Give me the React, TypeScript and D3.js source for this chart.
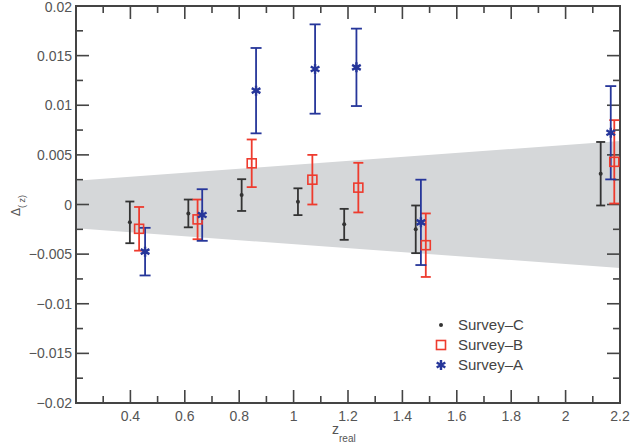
import React from 'react';
import * as d3 from 'd3';

const W = 633;
const H = 446;
const M = { left: 76, right: 13, top: 6, bottom: 43 };

// band half-width at the two ends of the x range
const bandX = [0.2, 2.2];
const bandHalf = [0.0024, 0.0064];

const surveyC_x = [0.398, 0.613, 0.809, 1.016, 1.186, 1.449, 2.129];
const surveyC_y = [-0.0018, -0.0009, 0.00095, 0.00028, -0.002, -0.0025, 0.0031];
const surveyC_err = [0.0021, 0.0014, 0.0016, 0.00135, 0.00156, 0.0024, 0.0032];

const surveyB_x = [0.432, 0.647, 0.846, 1.069, 1.238, 1.486, 2.179];
const surveyB_y = [-0.00245, -0.0015, 0.00415, 0.0025, 0.0017, -0.0041, 0.0043];
const surveyB_err = [0.0022, 0.002, 0.0024, 0.0025, 0.0025, 0.0032, 0.0042];

const surveyA_x = [0.454, 0.664, 0.862, 1.079, 1.231, 1.468, 2.166];
const surveyA_y = [-0.00475, -0.00106, 0.01147, 0.01365, 0.01382, -0.0018, 0.00723];
const surveyA_err = [0.0024, 0.0026, 0.0043, 0.0045, 0.0039, 0.0043, 0.0047];

const xMajor = [0.4, 0.6, 0.8, 1, 1.2, 1.4, 1.6, 1.8, 2, 2.2];
const xMinor = [0.3, 0.5, 0.7, 0.9, 1.1, 1.3, 1.5, 1.7, 1.9, 2.1];
const yMajor = [-0.02, -0.015, -0.01, -0.005, 0, 0.005, 0.01, 0.015, 0.02];
const yMinor = [-0.0175, -0.0125, -0.0075, -0.0025, 0.0025, 0.0075, 0.0125, 0.0175];
const yLabels = ['\u22120.02', '\u22120.015', '\u22120.01', '\u22120.005', '0', '0.005', '0.01', '0.015', '0.02'];

const legendNames = ['Survey\u2013C', 'Survey\u2013B', 'Survey\u2013A'];

const BLACK = '#333333';
const RED = '#ee3b2e';
const BLUE = '#26369a';
const AXIS = '#444444';
const FONT = '"Liberation Sans", Arial, sans-serif';

const x = d3.scaleLinear().domain([0.2, 2.2]).range([M.left, W - M.right]);
const y = d3.scaleLinear().domain([-0.02, 0.02]).range([H - M.bottom, M.top]);

const asterisk = d3.symbol().type(d3.symbolAsterisk).size(70)();

type Pt = { x: number; y: number; e: number };
const zip = (xs: number[], ys: number[], es: number[]): Pt[] =>
  xs.map((v, i) => ({ x: v, y: ys[i], e: es[i] }));

const ErrorBars = ({ pts, color, cap }: { pts: Pt[]; color: string; cap: number }) => (
  <g stroke={color} strokeWidth={1.8} fill="none">
    {pts.map((p, i) => {
      const cx = x(p.x);
      const y0 = y(p.y + p.e);
      const y1 = y(p.y - p.e);
      return (
        <g key={i}>
          <line x1={cx} x2={cx} y1={y0} y2={y1} />
          <line x1={cx - cap / 2} x2={cx + cap / 2} y1={y0} y2={y0} />
          <line x1={cx - cap / 2} x2={cx + cap / 2} y1={y1} y2={y1} />
        </g>
      );
    })}
  </g>
);

export default function App() {
  const C = zip(surveyC_x, surveyC_y, surveyC_err);
  const B = zip(surveyB_x, surveyB_y, surveyB_err);
  const A = zip(surveyA_x, surveyA_y, surveyA_err);

  const band = d3
    .area<number>()
    .x((d) => x(bandX[d]))
    .y0((d) => y(-bandHalf[d]))
    .y1((d) => y(bandHalf[d]));

  const [x0, x1] = x.range();
  const [yb, yt] = y.range();
  const MAJ = 13;
  const MIN = 7;

  const legY = [325, 345, 365];
  const legX = 441;

  return (
    <svg width={W} height={H} style={{ position: 'absolute', left: 0, top: 0, background: '#fff' }} fontFamily={FONT}>
      <path d={band([0, 1]) || ''} fill="#d5d7d9" />

      {/* ticks */}
      <g stroke={AXIS} strokeWidth={1.6}>
        {xMajor.map((t) => (
          <g key={'xM' + t}>
            <line x1={x(t)} x2={x(t)} y1={yb} y2={yb - MAJ} />
            <line x1={x(t)} x2={x(t)} y1={yt} y2={yt + MAJ} />
          </g>
        ))}
        {xMinor.map((t) => (
          <g key={'xm' + t}>
            <line x1={x(t)} x2={x(t)} y1={yb} y2={yb - MIN} />
            <line x1={x(t)} x2={x(t)} y1={yt} y2={yt + MIN} />
          </g>
        ))}
        {yMajor.map((t) => (
          <g key={'yM' + t}>
            <line x1={x0} x2={x0 + MAJ} y1={y(t)} y2={y(t)} />
            <line x1={x1} x2={x1 - MAJ} y1={y(t)} y2={y(t)} />
          </g>
        ))}
        {yMinor.map((t) => (
          <g key={'ym' + t}>
            <line x1={x0} x2={x0 + MIN} y1={y(t)} y2={y(t)} />
            <line x1={x1} x2={x1 - MIN} y1={y(t)} y2={y(t)} />
          </g>
        ))}
      </g>
      <rect x={x0} y={yt} width={x1 - x0} height={yb - yt} fill="none" stroke={AXIS} strokeWidth={2} />

      {/* tick labels */}
      <g fill="#555" fontSize={14}>
        {xMajor.map((t) => (
          <text key={'xl' + t} x={x(t)} y={yb + 18} textAnchor="middle">
            {d3.format('~g')(t)}
          </text>
        ))}
        {yMajor.map((t, i) => (
          <text key={'yl' + t} x={x0 - 4} y={Math.max(y(t) + 5, 12)} textAnchor="end">
            {yLabels[i]}
          </text>
        ))}
      </g>

      {/* axis titles */}
      <text x={332} y={434} fontSize={14} fill="#555">
        z
        <tspan fontSize={10} dy={8}>real</tspan>
      </text>
      <text transform="translate(20,216) rotate(-90)" fontSize={12} fill="#555">
        Δ<tspan fontSize={9} dy={5}>( z)</tspan>
      </text>

      {/* data */}
      <ErrorBars pts={C} color={BLACK} cap={9} />
      <ErrorBars pts={B} color={RED} cap={10} />
      <ErrorBars pts={A} color={BLUE} cap={11} />

      {C.map((p, i) => (
        <circle key={'c' + i} cx={x(p.x)} cy={y(p.y)} r={2} fill={BLACK} />
      ))}
      {B.map((p, i) => (
        <rect key={'b' + i} x={x(p.x) - 4.5} y={y(p.y) - 4.5} width={9} height={9} fill="none" stroke={RED} strokeWidth={1.6} />
      ))}
      {A.map((p, i) => (
        <path key={'a' + i} d={asterisk} transform={`translate(${x(p.x)},${y(p.y)})`} fill="none" stroke={BLUE} strokeWidth={2.4} />
      ))}

      {/* legend */}
      <circle cx={legX} cy={legY[0]} r={2} fill={BLACK} />
      <rect x={legX - 4.5} y={legY[1] - 4.5} width={9} height={9} fill="none" stroke={RED} strokeWidth={1.6} />
      <path d={asterisk} transform={`translate(${legX},${legY[2]})`} fill="none" stroke={BLUE} strokeWidth={2.4} />
      <g fontSize={15} fill="#444">
        {legendNames.map((n, i) => (
          <text key={n} x={legX + 17} y={legY[i] + 5}>
            {n}
          </text>
        ))}
      </g>
    </svg>
  );
}
